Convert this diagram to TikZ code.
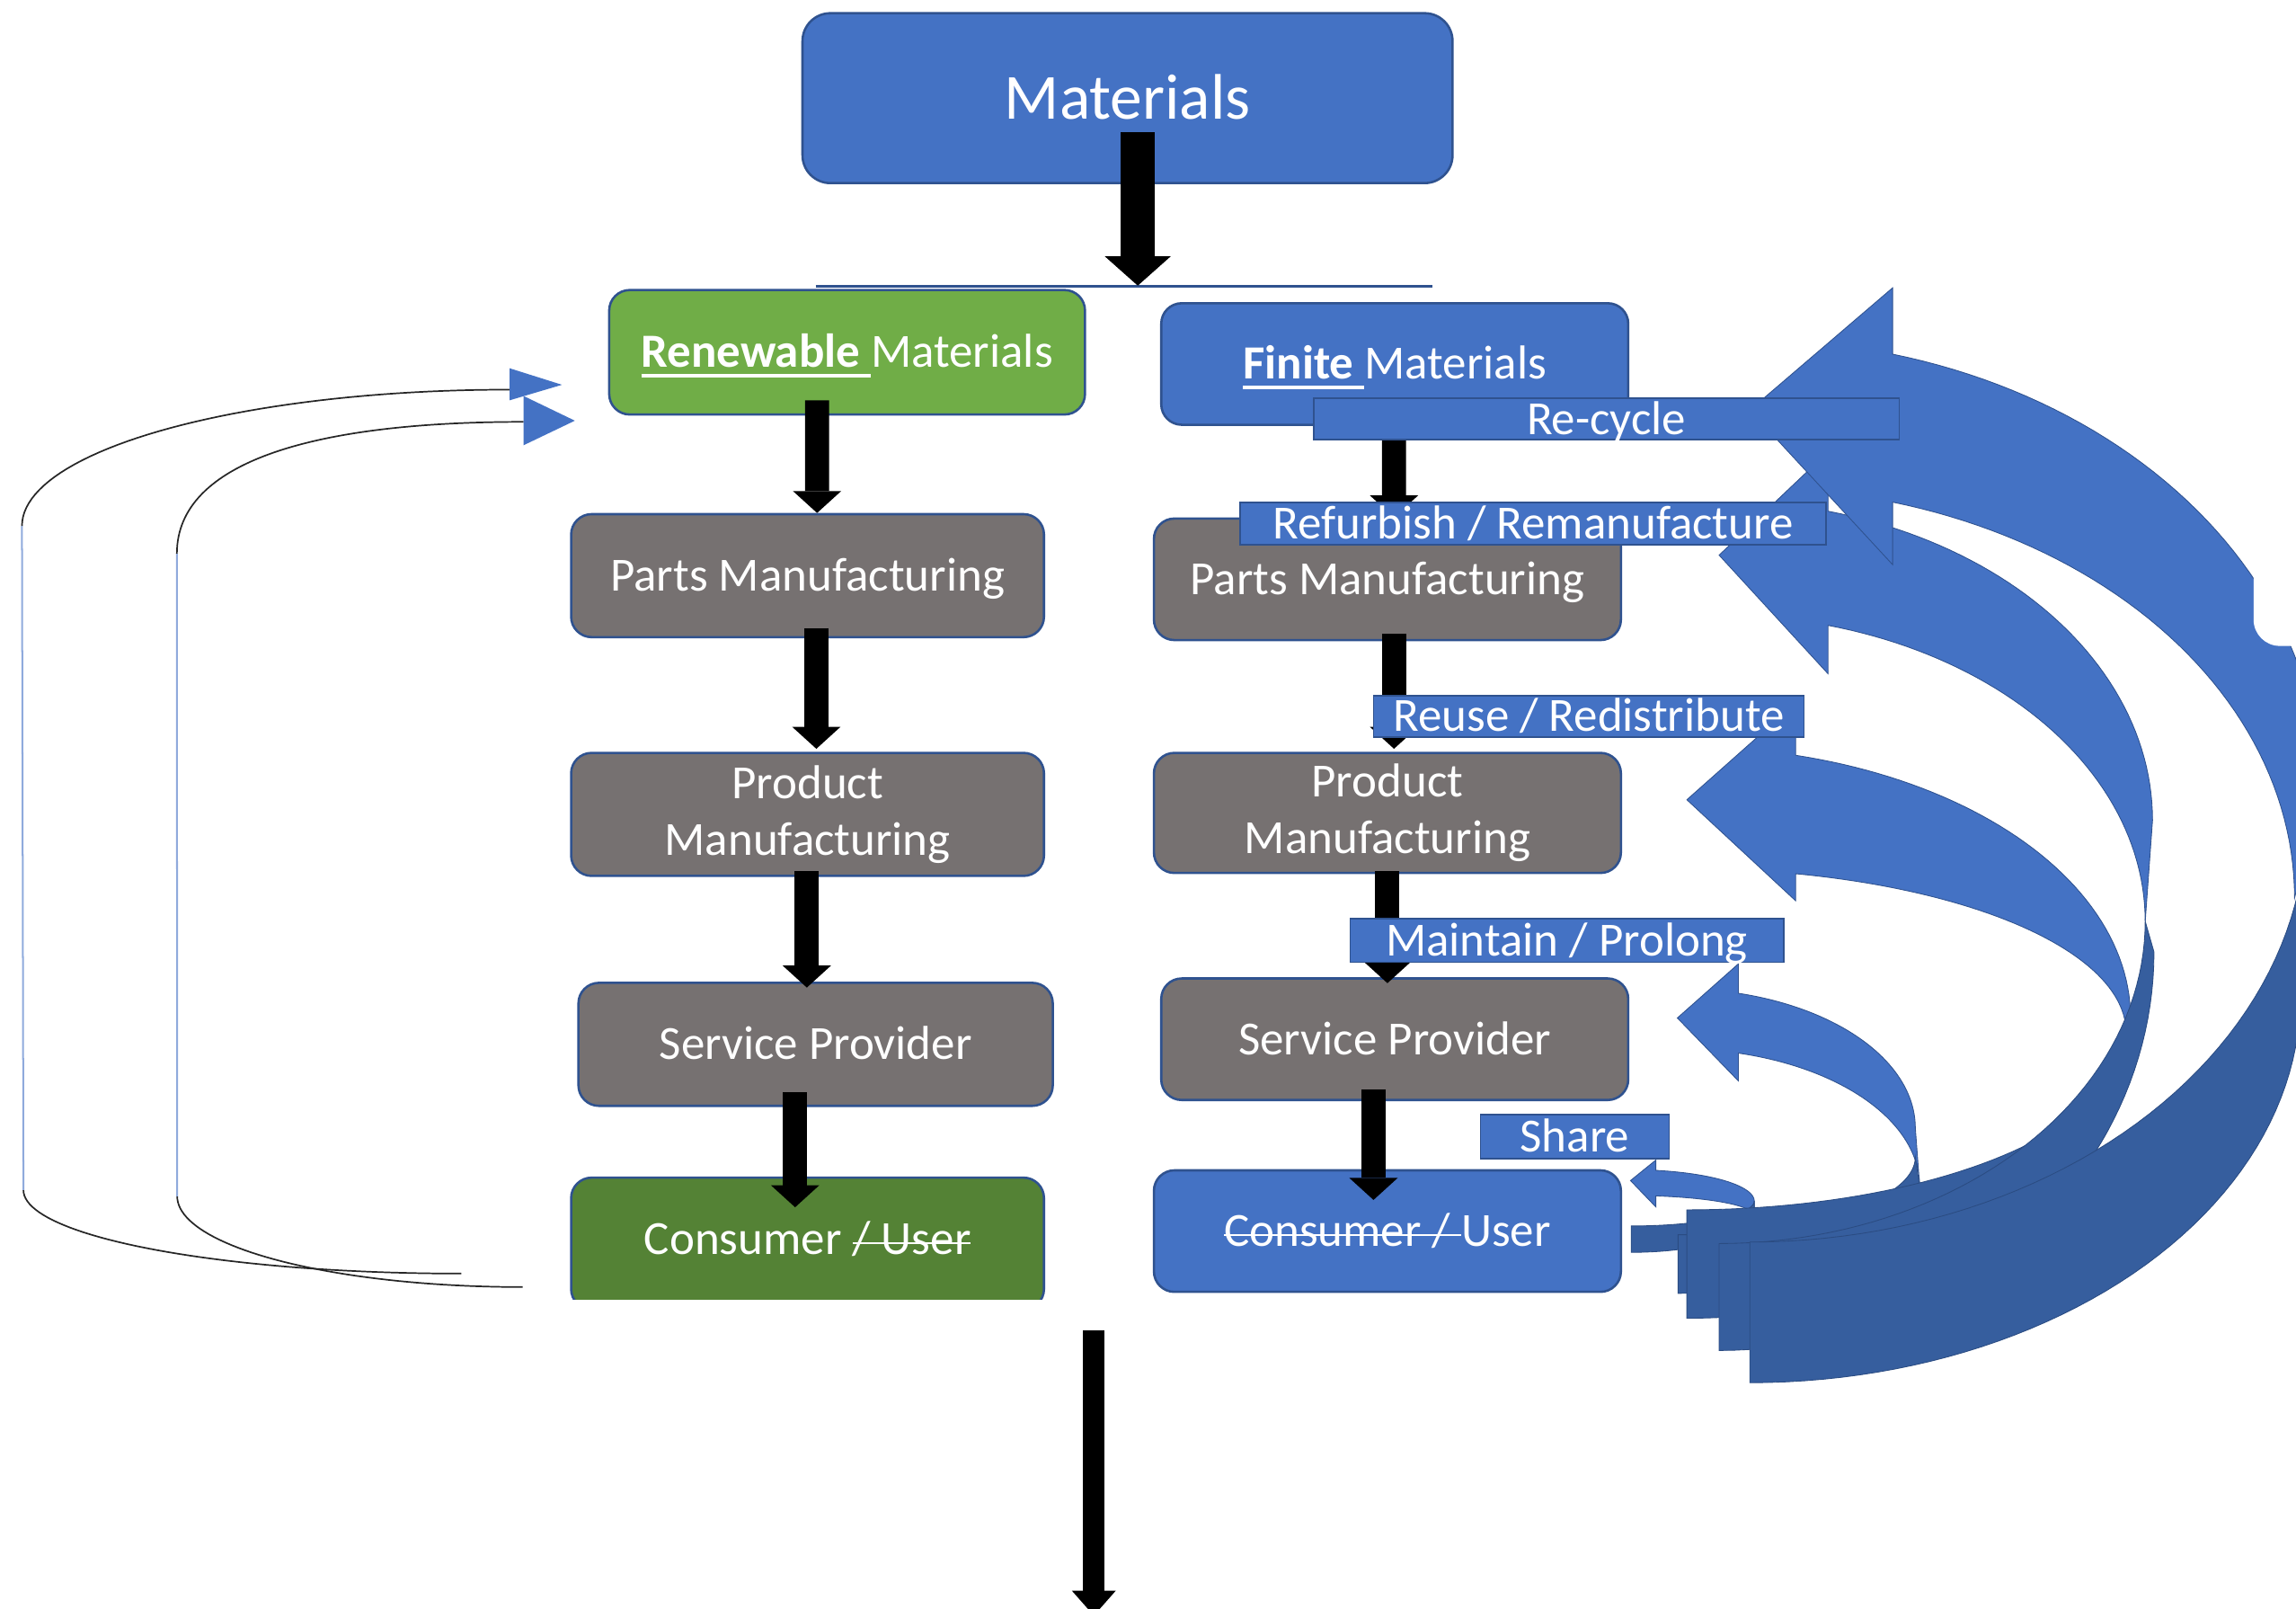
\documentclass[tikz,border=0pt]{standalone}
\usepackage{fontspec}
\setmainfont{Carlito}
\usetikzlibrary{arrows.meta,calc}
\newsavebox\myTxtBox
\newcommand\myUline[1]{\sbox\myTxtBox{#1}\rlap{\rule[-3.7pt]{\wd\myTxtBox}{1.1pt}}\usebox\myTxtBox}
\newcommand\myStrike[1]{\sbox\myTxtBox{#1}\rlap{\rule[0.45ex]{\wd\myTxtBox}{0.9pt}}\usebox\myTxtBox}
\definecolor{pblue}{HTML}{4472C4}
\definecolor{pedge}{HTML}{2F528F}
\definecolor{pgray}{HTML}{767171}
\definecolor{pgreen}{HTML}{70AD47}
\definecolor{pdgreen}{HTML}{548235}
\definecolor{pdark}{HTML}{365E9E}
\definecolor{pdarkedge}{HTML}{2B4C82}
\definecolor{plight}{HTML}{8FAADC}
\begin{document}
\begin{tikzpicture}[x=0.02cm,y=-0.02cm,
  pbox/.style={rectangle, rounded corners=0.28cm, draw=pedge, line width=0.9pt, text=white, inner sep=0pt,
     font=\fontsize{18.5}{22.2}\selectfont},
  single/.style={text height=11.9pt, text depth=0pt},
  plabel/.style={rectangle, fill=pblue, draw=pedge, line width=0.6pt, text=white, inner sep=0pt,
     font=\fontsize{18.5}{22.2}\selectfont, text height=11.9pt, text depth=0pt},
  blk/.style={draw=black, line width=0.33cm, -{Triangle[width=0.66cm,length=0.3cm,line width=0pt]}},
  blkM/.style={draw=black, line width=0.47cm, -{Triangle[width=0.9cm,length=0.4cm,line width=0pt]}},
  blkB/.style={draw=black, line width=0.3cm, -{Triangle[width=0.6cm,length=0.34cm,line width=0pt]}},
  thinblack/.style={draw=black!85, line width=0.6pt},
  thinblue/.style={draw=plight, line width=0.7pt},
  lband/.style={fill=pblue, draw=pedge, line width=0.3pt},
  dband/.style={fill=pdark, draw=pdarkedge, line width=0.3pt},
  every plot/.style={samples=48, variable=\t}
]
\useasboundingbox (0,0) rectangle (1568,1098.5);
\clip (0,0) rectangle (1568,1098.5);

% ---------- boxes ----------
\node[pbox, single, fill=pblue, rounded corners=0.38cm, minimum width=8.88cm, minimum height=2.32cm,
      font=\fontsize{25}{30}\selectfont, text height=16.1pt] (materials) at (770,67) {Materials};
\node[pbox, single, fill=pgreen, minimum width=6.5cm, minimum height=1.7cm] (renew) at (578.5,240.5)
      {\myUline{\textbf{Renewable}~}Materials};
\node[pbox, single, fill=pblue, minimum width=6.38cm, minimum height=1.66cm] (finite) at (952.5,248.5)
      {\myUline{\textbf{Finite}~}Materials};
\node[pbox, single, fill=pgray, minimum width=6.46cm, minimum height=1.68cm] (partsL) at (551.5,393) {Parts Manufacturing};
\node[pbox, single, fill=pgray, minimum width=6.38cm, minimum height=1.66cm] (partsR) at (947.5,395.5) {Parts Manufacturing};
\node[pbox, fill=pgray, align=center, minimum width=6.46cm, minimum height=1.68cm] (prodL) at (551.5,556) {Product\\Manufacturing};
\node[pbox, fill=pgray, align=center, minimum width=6.38cm, minimum height=1.64cm] (prodR) at (947.5,555) {Product\\Manufacturing};
\node[pbox, single, fill=pgray, minimum width=6.48cm, minimum height=1.68cm] (servL) at (557,713) {Service Provider};
\node[pbox, single, fill=pgray, minimum width=6.38cm, minimum height=1.66cm] (servR) at (952.5,709.5) {Service Provider};
\begin{scope}
  \clip (380,790) rectangle (730,887);
  \node[pbox, single, text depth=3.4pt, fill=pdgreen, minimum width=6.46cm, minimum height=1.8cm] (consL) at (551.5,849)
      {Consumer \myStrike{/ User}};
\end{scope}
\node[pbox, single, fill=pblue, minimum width=6.38cm, minimum height=1.66cm] (consR) at (947.5,840.5)
      {\myStrike{Consumer /~}User};

% ---------- bar under the top arrow ----------
\coordinate (barL) at (557,195.5);
\coordinate (barR) at (978,195.5);
\draw[pedge, line width=1pt] (barL) -- (barR);

% ---------- black flow arrows ----------
\coordinate (a0end) at (777,195);
\draw[blkM] ($(materials.south)+(7,-35.5)$) -- (a0end);
\draw[blk] ($(renew.south)+(-20.5,-10.5)$) -- ($(partsL.north)+(6.5,0)$);
\draw[blk] ($(partsL.south)+(6,-7)$) -- ($(prodL.north)+(6,-2)$);
\draw[blk] ($(prodL.south)+(-0.5,-4)$) -- ($(servL.north)+(-6,4)$);
\draw[blk] ($(servL.south)+(-14,-10)$) -- ($(consL.north)+(-8.5,21)$);
\draw[blk] ($(finite.south)+(-0.5,-10)$) -- ($(partsR.north)+(4.5,0)$);
\draw[blk] ($(partsR.south)+(4.5,-5)$) -- ($(prodR.north)+(4.5,-2)$);
\draw[blk] ($(prodR.south)+(0,-2)$) -- ($(servR.north)+(-5,4)$);
\draw[blk] ($(servR.south)+(-14.5,-8)$) -- ($(consR.north)+(-9.5,21)$);
\coordinate (bstart) at (747,908);
\coordinate (bend) at (747,1103);
\draw[blkB] (bstart) -- (bend);

% ---------- left feedback loops ----------
\coordinate (loA) at (315,869.5);
\coordinate (loB) at (16,812.5);
\coordinate (loC) at (15,359);
\draw[thinblack] plot[domain=90:180] ({315+299*cos(\t)},{812.5+57*sin(\t)});
\draw[thinblue] (loB) -- (loC);
\draw[thinblack] plot[domain=180:270] ({348+333*cos(\t)},{359+93*sin(\t)});
\fill[pblue] (348,251.4) -- (383.8,262.7) -- (348,273.3) -- cycle;

\coordinate (liA) at (357,878.7);
\coordinate (liB) at (121,816.7);
\coordinate (liC) at (120.8,378);
\coordinate (liD) at (357.5,288);
\draw[thinblack] plot[domain=90:180] ({357+236*cos(\t)},{816.7+62*sin(\t)});
\draw[thinblue] (liB) -- (liC);
\draw[thinblack] (liC) .. controls (120.8,315) and (215,288) .. (liD);
\fill[pblue] (357.5,270.3) -- (392.6,287.2) -- (357.5,304) -- cycle;

% ---------- curved return arrows ----------
% Share
\path[lband] (1113.5,806) -- (1130.8,792)
   -- plot[domain=-78.46:0] ({1114+84*cos(\t)},{820+21.4*sin(\t)})
   -- plot[domain=0:78.46] ({1114+84*cos(\t)},{830-13.8*sin(\t)})
   -- (1130.8,824) -- cycle;
\path[dband] plot[domain=0:90] ({1114+84*cos(\t)},{830+25*sin(\t)})
   -- plot[domain=0:90] ({1114+84*sin(\t)},{820+17*cos(\t)}) -- cycle;
% Maintain / Prolong
\path[lband] (1145.5,695) -- (1187.2,658)
   -- plot[domain=-75.27:0] ({1146+162*cos(\t)},{770+95*sin(\t)})
   -- plot[domain=0:75.54] ({1146+165*cos(\t)},{810-94*sin(\t)})
   -- (1187.2,738) -- cycle;
\path[dband] plot[domain=0:90] ({1146+165*cos(\t)},{810+73*sin(\t)})
   -- plot[domain=0:90] ({1146+162*sin(\t)},{790+53*cos(\t)}) -- cycle;
% Reuse / Redistribute
\path[lband] (1152,546) -- (1226.3,480)
   -- plot[domain=-75.81:0] ({1152+303*cos(\t)},{695+185*sin(\t)})
   -- plot[domain=0:75.66] ({1152+300*cos(\t)},{705-112*sin(\t)})
   -- (1226.3,615) -- cycle;
\path[dband] plot[domain=0:90] ({1152+302*cos(\t)},{715+185*sin(\t)})
   -- plot[domain=0:90] ({1152+300*sin(\t)},{705+121*cos(\t)}) -- cycle;
% Refurbish / Remanufacture
\path[lband] (1174,379) -- (1248.4,308.5)
   -- plot[domain=-75.44:0] ({1174+296*cos(\t)},{560+218*sin(\t)})
   -- plot[domain=0:75.19] ({1174+291*cos(\t)},{629-209*sin(\t)})
   -- (1248.4,460) -- cycle;
\path[dband] plot[domain=0:90] ({1174+297*cos(\t)},{650+272*sin(\t)})
   -- plot[domain=0:90] ({1174+291*sin(\t)},{629+220*cos(\t)}) -- cycle;
% Re-cycle
\path[lband] (1195,280) -- (1292.5,196.5)
   -- plot[domain=-75.52:0] ({1195+390*cos(\t)},{540+308*sin(\t)})
   -- plot[domain=0:74.80] ({1195+372*cos(\t)},{613-280*sin(\t)})
   -- (1292.5,385.5) -- cycle;
\path[dband] plot[domain=0:90] ({1195+376*cos(\t)},{680+264*sin(\t)})
   -- plot[domain=0:90] ({1195+380*sin(\t)},{560+288*cos(\t)}) -- cycle;
\fill[white, rounded corners=0.36cm] (1539,300) rectangle (1660,441);

% ---------- labels ----------
\node[plabel, minimum width=8cm, minimum height=0.56cm] (recycle) at (1097,286) {Re-cycle};
\node[plabel, minimum width=8cm, minimum height=0.58cm] (refurb) at (1047,357.5) {Refurbish / Remanufacture};
\node[plabel, minimum width=5.88cm, minimum height=0.56cm] (reuse) at (1085,489) {Reuse / Redistribute};
\node[plabel, minimum width=5.92cm, minimum height=0.6cm] (maintain) at (1070,642) {Maintain / Prolong};
\node[plabel, minimum width=2.58cm, minimum height=0.6cm] (share) at (1075.5,776) {Share};
\end{tikzpicture}
\end{document}
